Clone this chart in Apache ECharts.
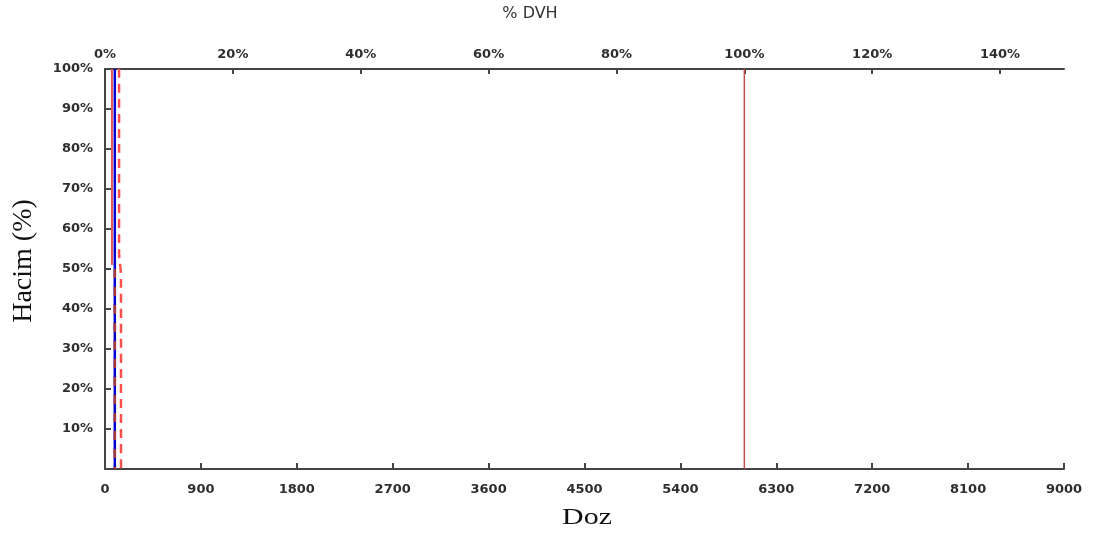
<!DOCTYPE html>
<html>
<head>
<meta charset="utf-8">
<script src="https://cdn.jsdelivr.net/npm/echarts@6/dist/echarts.min.js"></script>
<style>
  html, body { margin: 0; padding: 0; background: #fff; }
  #chart { width: 1099px; height: 543px; }
</style>
</head>
<body>
<div id="chart"></div>
<script>
// Dose axis (bottom) and relative dose axis (top)
const doseTicks = [0, 900, 1800, 2700, 3600, 4500, 5400, 6300, 7200, 8100, 9000];
const percentTicks = [0, 20, 40, 60, 80, 100, 120, 140];
const volumeTicks = [10, 20, 30, 40, 50, 60, 70, 80, 90, 100];

// DVH curves as [dose, volume %]
const redSolid = [[65, 100], [65, 51]];
const blueSolid = [[92, 100], [92, 0]];
const redDashed = [[132, 100], [132, 54], [138, 52], [146, 50], [150, 47], [150, 0]];
const darkRedDashed = [[92, 50], [92, 0]];
const prescription = [[6000, 0], [6000, 100]];

const labelFont = {
  fontFamily: 'DejaVu Sans, sans-serif',
  fontWeight: 'bold',
  fontSize: 13,
  color: '#2e2e2e'
};
const axisLine = { show: true, lineStyle: { color: '#444', width: 2 } };
const tickStyle = { color: '#444', width: 2 };

const chart = echarts.init(document.getElementById('chart'), null, { renderer: 'canvas' });
chart.setOption({
  animation: false,
  backgroundColor: '#fff',
  grid: { left: 105, right: 35, top: 69, bottom: 74, outerBoundsMode: 'none', containLabel: false },
  xAxis: [
    {
      type: 'value', position: 'bottom', min: 0, max: 9000, interval: 900,
      axisLine: axisLine,
      axisTick: { show: true, inside: true, length: 6, lineStyle: tickStyle },
      axisLabel: Object.assign({ margin: 14, customValues: doseTicks, formatter: v => String(v) }, labelFont),
      splitLine: { show: false }
    },
    {
      type: 'value', position: 'top', min: 0, max: 150,
      axisLine: axisLine,
      axisTick: { show: true, inside: true, length: 5, customValues: percentTicks, lineStyle: tickStyle },
      axisLabel: Object.assign({ margin: 8, customValues: percentTicks, formatter: '{value}%' }, labelFont),
      splitLine: { show: false }
    }
  ],
  yAxis: {
    type: 'value', min: 0, max: 100, interval: 10,
    axisLine: axisLine,
    axisTick: { show: true, inside: true, length: 6, lineStyle: tickStyle },
    axisLabel: Object.assign({ margin: 12, customValues: volumeTicks, formatter: '{value}%' }, labelFont),
    splitLine: { show: false }
  },
  graphic: [
    {
      type: 'text', x: 530, y: 14,
      style: { text: '% DVH', font: '16px "DejaVu Sans", sans-serif', fill: '#333', align: 'center', verticalAlign: 'middle' }
    },
    {
      type: 'text', x: 587, y: 518, scaleX: 1.3,
      style: { text: 'Doz', font: '23px "Liberation Serif", serif', fill: '#111', align: 'center', verticalAlign: 'middle' }
    },
    {
      type: 'text', x: 24, y: 261, rotation: Math.PI / 2,
      style: { text: 'Hacim (%)', font: '28px "Liberation Serif", serif', fill: '#111', align: 'center', verticalAlign: 'middle' }
    }
  ],
  series: [
    { type: 'line', data: prescription, symbol: 'none', lineStyle: { color: '#c0504d', width: 1.5 } },
    { type: 'line', data: redSolid, symbol: 'none', lineStyle: { color: '#e05555', width: 2 } },
    { type: 'line', data: blueSolid, symbol: 'none', lineStyle: { color: '#0000d0', width: 2.5 } },
    { type: 'line', data: darkRedDashed, symbol: 'none', lineStyle: { color: '#a83838', width: 2.5, type: [9, 9] } },
    { type: 'line', data: redDashed, symbol: 'none', smooth: 0.3, lineStyle: { color: '#ff5050', width: 2.5, type: [9, 6] } }
  ]
});
</script>
</body>
</html>
